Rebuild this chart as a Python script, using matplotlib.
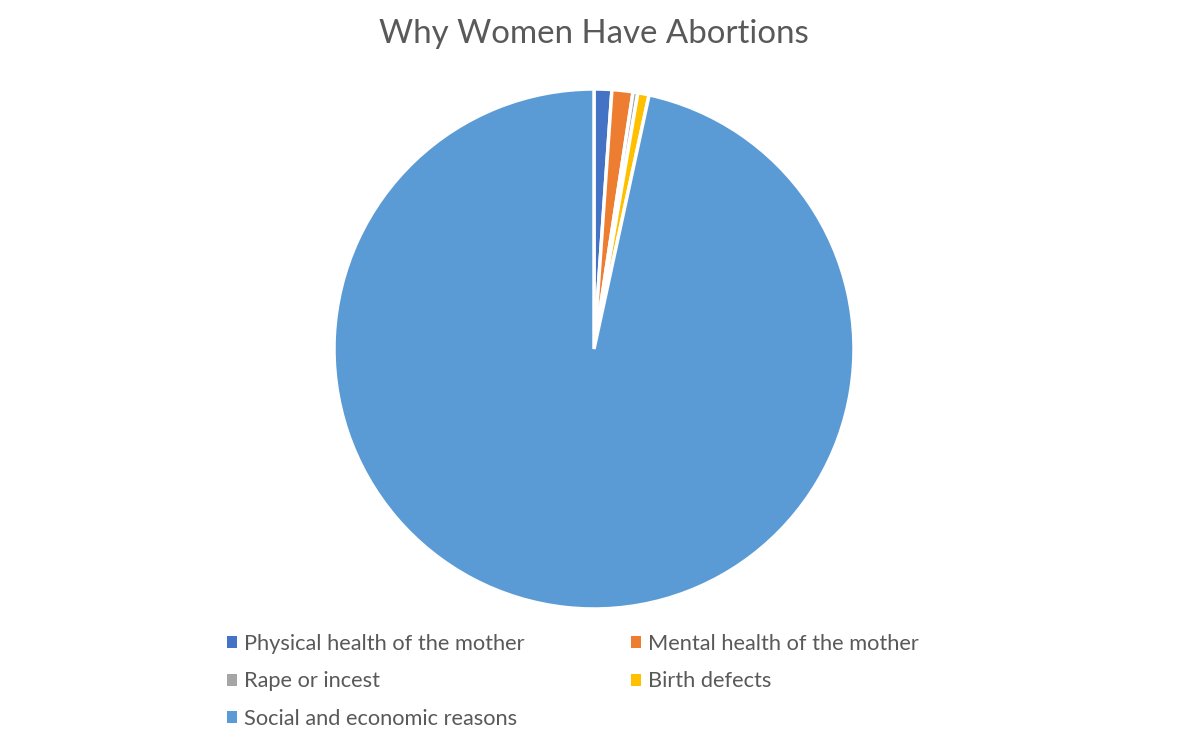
import matplotlib
matplotlib.use("Agg")
import matplotlib.pyplot as plt
from matplotlib.patches import Patch

plt.rcParams['font.family'] = ['Lato', 'DejaVu Sans']

labels = ["Physical health of the mother", "Mental health of the mother",
          "Rape or incest", "Birth defects", "Social and economic reasons"]
values = [1.1, 1.3, 0.3, 0.7, 96.6]
colors = ["#4472C4", "#ED7D31", "#A5A5A5", "#FFC000", "#5B9BD5"]

fig = plt.figure(figsize=(11.92, 7.34), dpi=100)
W, H = 1192, 734
ax = fig.add_axes([334 / W, (H - 609) / H, 520 / W, 520 / H])
ax.pie(values, colors=colors, startangle=90, counterclock=False,
       wedgeprops=dict(edgecolor="white", linewidth=2.5))
ax.set_xlim(-1.0, 1.0)
ax.set_ylim(-1.0, 1.0)
ax.set_aspect("equal")

fig.text(594 / W, 1 - 34 / H, "Why Women Have Abortions", ha="center", va="center",
         fontsize=23.8, color="#595959")

# row-major ordering for a 2-column legend
order = [0, 2, 4, 1, 3]
handles = [Patch(facecolor=colors[i], edgecolor="none") for i in order]
names = [labels[i] for i in order]
fig.legend(handles, names, ncol=2, loc="upper left",
           bbox_to_anchor=(227 / W, 1 - 634 / H), frameon=False,
           borderpad=0, borderaxespad=0,
           fontsize=15.7, labelcolor="#595959", handlelength=0.45, handleheight=0.45,
           handletextpad=0.35, columnspacing=4.85, labelspacing=0.8)

fig.savefig("out.png", dpi=100)
